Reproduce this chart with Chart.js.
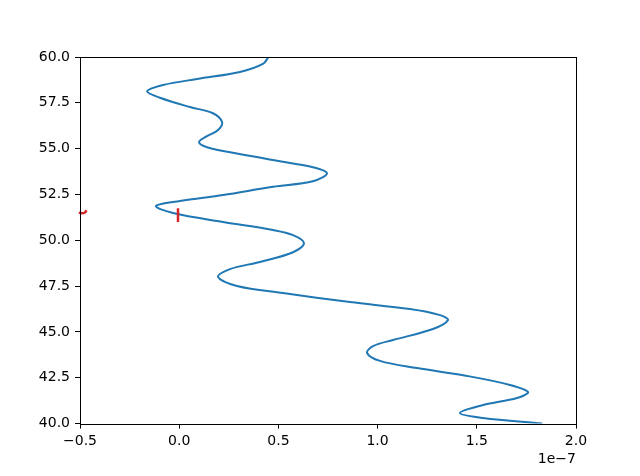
<!DOCTYPE html>
<html>
<head>
<meta charset="utf-8">
<script src="https://cdn.jsdelivr.net/npm/chart.js@4"></script>
<style>
  html, body { margin: 0; padding: 0; background: #fff; }
  #wrap { width: 640px; height: 476px; }
</style>
</head>
<body>
<div id="wrap"><canvas id="chart" width="640" height="476"></canvas></div>
<script>
// x values are in units of 1e-7 (shown by the offset label)
const curveX = [0.45, 0.422, 0.306, 0.090, -0.082, -0.162, -0.097, 0.054, 0.170, 0.216,
  0.196, 0.140, 0.100, 0.140, 0.291, 0.558, 0.674, 0.745, 0.674, 0.473,
  0.221, 0.004, -0.117, -0.031, 0.221, 0.473, 0.574, 0.629, 0.574, 0.407,
  0.256, 0.196, 0.291, 0.523, 0.861, 1.163, 1.315, 1.355, 1.279, 1.078,
  0.977, 0.947, 1.012, 1.199, 1.451, 1.667, 1.758, 1.703, 1.531, 1.415,
  1.531, 1.83];
const curveY = [60.0, 59.62, 59.18, 58.80, 58.47, 58.13, 57.78, 57.27, 56.93, 56.45,
  56.02, 55.68, 55.36, 55.08, 54.73, 54.22, 53.99, 53.66, 53.22, 52.92,
  52.47, 52.14, 51.87, 51.49, 51.00, 50.56, 50.28, 49.84, 49.35, 48.82,
  48.43, 48.00, 47.51, 47.12, 46.63, 46.25, 45.92, 45.65, 45.16, 44.56,
  44.23, 43.85, 43.42, 43.03, 42.60, 42.11, 41.72, 41.40, 41.01, 40.58,
  40.31, 40.0];

const markX = [-0.006, -0.006];
const markY = [51.0, 51.75];

const arcX = [-0.513, -0.505, -0.49, -0.475, -0.467];
const arcY = [51.66, 51.53, 51.47, 51.52, 51.64];

const xTicks = [-0.5, 0.0, 0.5, 1.0, 1.5, 2.0];
const yTicks = [40.0, 42.5, 45.0, 47.5, 50.0, 52.5, 55.0, 57.5, 60.0];
const offsetLabel = '1e\u22127';

function pts(xs, ys) {
  return xs.map((x, i) => ({ x: x, y: ys[i] }));
}
function fmt(v) {
  return v.toFixed(1).replace('-', '\u2212');
}

const frame = {
  id: 'frame',
  afterDraw(chart) {
    const a = chart.chartArea;
    const ctx = chart.ctx;
    ctx.save();
    ctx.strokeStyle = '#000';
    ctx.lineWidth = 1;
    ctx.strokeRect(Math.round(a.left) + 0.5, Math.round(a.top) + 0.5,
      Math.round(a.right - a.left), Math.round(a.bottom - a.top));
    ctx.fillStyle = '#000';
    ctx.font = '14px "DejaVu Sans"';
    ctx.textAlign = 'right';
    ctx.textBaseline = 'middle';
    ctx.fillText(offsetLabel, a.right, 459);
    ctx.restore();
  }
};

new Chart(document.getElementById('chart').getContext('2d'), {
  type: 'scatter',
  data: {
    datasets: [
      {
        data: pts(markX, markY),
        showLine: true,
        borderColor: '#d62728',
        borderWidth: 2.5,
        pointRadius: 0,
        clip: false
      },
      {
        data: pts(arcX, arcY),
        showLine: true,
        borderColor: '#d62728',
        borderWidth: 2.5,
        tension: 0.4,
        pointRadius: 0,
        clip: false
      },
      {
        data: pts(curveX, curveY),
        showLine: true,
        borderColor: '#1f77b4',
        borderWidth: 2,
        tension: 0.35,
        pointRadius: 0
      }
    ]
  },
  options: {
    responsive: false,
    animation: false,
    events: [],
    layout: { padding: { left: 0, right: 64, top: 57, bottom: 0 } },
    plugins: {
      legend: { display: false },
      tooltip: { enabled: false }
    },
    scales: {
      x: {
        type: 'linear',
        min: -0.5,
        max: 2.0,
        afterBuildTicks: s => { s.ticks = xTicks.map(v => ({ value: v })); },
        afterFit: s => { s.height = 52.4; },
        grid: { drawOnChartArea: false, drawTicks: true, tickLength: 5, color: '#000' },
        border: { display: false },
        ticks: {
          color: '#000',
          padding: 4,
          maxRotation: 0,
          font: { family: 'DejaVu Sans', size: 14 },
          callback: v => fmt(v)
        }
      },
      y: {
        type: 'linear',
        min: 40,
        max: 60,
        afterBuildTicks: s => { s.ticks = yTicks.map(v => ({ value: v })); },
        afterFit: s => { s.width = 80; },
        grid: { drawOnChartArea: false, drawTicks: true, tickLength: 5, color: '#000' },
        border: { display: false },
        ticks: {
          color: '#000',
          padding: 5,
          font: { family: 'DejaVu Sans', size: 14 },
          callback: v => fmt(v)
        }
      }
    }
  },
  plugins: [frame]
});
</script>
</body>
</html>
